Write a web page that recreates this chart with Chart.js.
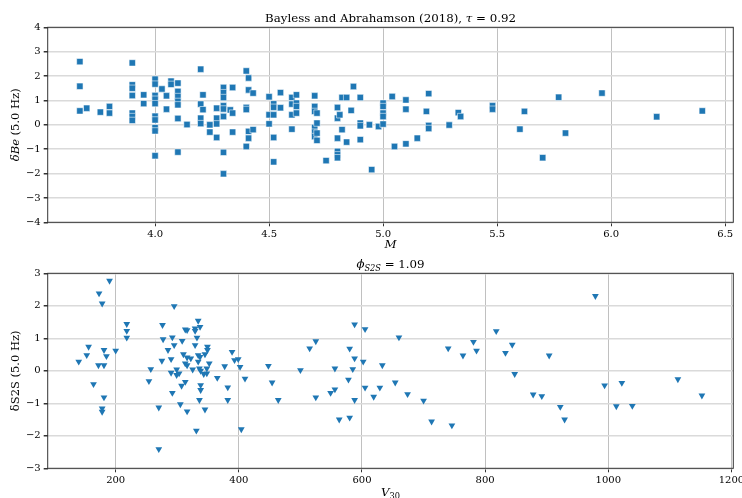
<!DOCTYPE html>
<html>
<head>
<meta charset="utf-8">
<script src="https://cdn.jsdelivr.net/npm/chart.js@4.4.1/dist/chart.umd.min.js"></script>
<style>
    body { margin: 0; background: #fff; }
    #wrap { position: relative; width: 742px; height: 498px; overflow: hidden; }
    canvas { position: absolute; left: 0; }
    #topChart { top: 0; }
    #bottomChart { top: 249px; }
</style>
</head>
<body>
<div id="wrap">
    <canvas id="topChart" width="742" height="249"></canvas>
    <canvas id="bottomChart" width="742" height="249"></canvas>
</div>
<script>
// event terms vs magnitude
const magnitudes = [
    3.67, 3.67, 3.67, 3.70, 3.76, 3.80, 3.80,
    3.90, 3.90, 3.90, 3.90, 3.90, 3.90, 3.90, 3.95, 3.95,
    4.00, 4.00, 4.00, 4.00, 4.00, 4.00, 4.00, 4.00, 4.00, 4.00,
    4.03, 4.05, 4.05, 4.07, 4.07,
    4.10, 4.10, 4.10, 4.10, 4.10, 4.10, 4.10, 4.14,
    4.20, 4.21, 4.20, 4.21, 4.20, 4.20, 4.24, 4.24,
    4.27, 4.27, 4.27, 4.27,
    4.30, 4.30, 4.30, 4.30, 4.30, 4.30, 4.30, 4.30,
    4.33, 4.34, 4.34, 4.34,
    4.40, 4.40, 4.40, 4.40, 4.41, 4.41, 4.41, 4.41, 4.43, 4.43,
    4.50, 4.50, 4.50, 4.52, 4.52, 4.52, 4.52, 4.52, 4.55, 4.55,
    4.60, 4.60, 4.60, 4.60, 4.62, 4.62, 4.62, 4.62,
    4.70, 4.70, 4.70, 4.70, 4.70, 4.70, 4.71, 4.71, 4.71, 4.71, 4.75,
    4.80, 4.80, 4.80, 4.80, 4.80, 4.80, 4.81, 4.82, 4.82, 4.84, 4.84, 4.86, 4.87,
    4.90, 4.90, 4.90, 4.90, 4.94, 4.95, 4.98,
    5.00, 5.00, 5.00, 5.00, 5.00,
    5.04, 5.05, 5.10, 5.10, 5.10, 5.15, 5.19, 5.20, 5.20, 5.20, 5.29, 5.33, 5.34,
    5.48, 5.48, 5.60, 5.62, 5.70, 5.77, 5.80, 5.96, 6.20, 6.40
];
const deltaBe = [
    2.59, 1.58, 0.57, 0.68, 0.52, 0.75, 0.48,
    2.54, 1.64, 1.50, 1.20, 0.48, 0.34, 0.18, 1.23, 0.87,
    1.87, 1.67, 1.20, 1.05, 0.87, 0.35, 0.20, -0.12, -0.25, -1.27,
    1.47, 1.19, 0.64, 1.79, 1.66,
    1.71, 1.37, 1.16, 0.96, 0.82, 0.26, -1.12, 0.01,
    2.28, 1.23, 0.85, 0.62, 0.27, 0.05, 0.00, -0.30,
    0.68, 0.27, 0.04, -0.52,
    1.53, 1.32, 1.12, 0.78, 0.65, 0.34, -1.13, -2.01,
    0.61, 1.53, 0.48, -0.30,
    2.21, 0.71, 0.63, -0.89, 1.92, 1.43, -0.27, -0.55, 1.30, -0.20,
    1.15, 0.41, 0.04, 0.86, 0.72, 0.41, -0.52, -1.52, 1.32, 0.70,
    1.12, 0.85, 0.41, -0.18, 1.23, 0.89, 0.75, 0.48,
    1.19, 0.75, 0.55, -0.11, -0.30, -0.48, 0.48, 0.07, -0.34, -0.64, -1.47,
    0.71, 0.27, -0.55, -1.09, -1.23, -1.35, 0.41, -0.20, 1.12, 1.12, -0.71, 0.59, 1.57,
    1.12, 0.07, -0.04, -0.61, 0.00, -1.84, -0.07,
    0.89, 0.75, 0.48, 0.34, 0.03,
    1.16, -0.89, 1.02, 0.64, -0.78, -0.55, 0.55, 1.28, -0.03, -0.15, -0.01, 0.50, 0.34,
    0.78, 0.64, -0.18, 0.55, -1.35, 1.13, -0.34, 1.30, 0.33, 0.57
];
const magTicks = [4.0, 4.5, 5.0, 5.5, 6.0, 6.5];
const beTicks = [-4, -3, -2, -1, 0, 1, 2, 3, 4];

// site terms vs Vs30
const vs30 = [
    140, 153, 156, 164, 172, 173, 178, 178, 178, 181, 181, 181, 185, 190, 200, 218, 218, 218,
    254, 257, 270, 270, 275, 276, 277, 285, 290, 290, 292, 292, 295, 295, 299, 299, 303, 305,
    307, 308, 310, 313, 313, 313, 316, 316, 316, 316, 322, 325, 329, 329, 329, 331, 332, 334,
    334, 334, 336, 336, 337, 337, 338, 338, 338, 343, 345, 345, 348, 348, 349, 349, 352, 365,
    377, 382, 382, 389, 393, 399, 402, 404, 410,
    448, 454, 464, 500, 515, 525, 525, 549, 556, 556, 563, 578, 580, 580, 585, 588, 588, 588,
    602, 605, 605, 619, 629, 633, 654, 660, 674, 700, 713, 740, 746, 764, 781, 786,
    818, 833, 844, 848, 878, 892, 904, 922, 929, 979, 994, 1013, 1022, 1039, 1113, 1152
];
const deltaS2S = [
    0.28, 0.48, 0.74, -0.41, 0.17, 2.38, 2.07, -1.16, -1.26, 0.64, -0.82, 0.17, 0.45, 2.77, 0.62, 1.44, 1.23, 1.02,
    -0.32, 0.05, -1.13, -2.41, 0.31, 1.41, 0.97, 0.64, 0.36, -0.06, 1.03, -0.68, 1.99, 0.79, 0.04, -0.13, -0.08, -1.03,
    -0.46, 0.92, 0.51, 1.27, 0.23, -0.34, 1.25, 0.41, 0.17, -1.25, 0.38, 0.04, 1.30, 1.23, 0.79, -1.84, 1.02, 1.54,
    0.48, 0.28, 0.07, -0.90, 1.35, 0.43, -0.44, -0.59, 0.00, -0.10, -1.19, 0.51, -0.08, 0.07, 0.74, 0.64, 0.23, -0.22,
    0.14, -0.51, -0.90, 0.58, 0.33, 0.36, 0.12, -1.80, -0.24,
    0.15, -0.36, -0.90, 0.02, 0.69, 0.91, -0.82, -0.68, 0.07, -0.57, -1.50, -0.27, 0.68, -1.44, 0.05, 1.43, 0.38, -0.90,
    0.28, 1.28, -0.52, -0.80, -0.52, 0.17, -0.36, 1.03, -0.72, -0.92, -1.56, 0.69, -1.68, 0.47, 0.89, 0.62,
    1.22, 0.55, 0.80, -0.10, -0.73, -0.78, 0.47, -1.11, -1.50, 2.30, -0.45, -1.09, -0.37, -1.08, -0.26, -0.76
];
const vsTicks = [200, 400, 600, 800, 1000, 1200];
const s2sTicks = [-3, -2, -1, 0, 1, 2, 3];

const serif = "'DejaVu Serif', serif";
const blue = '#1f77b4';

function fontOf(part, size) {
    return (part.i ? 'italic ' : '') + (part.sub ? size * 0.7 : size) + 'px ' + serif;
}

// draws a label made of pieces (italic / subscript), centred on x,y
function drawRich(ctx, parts, x, y, size, rotate) {
    ctx.save();
    ctx.translate(x, y);
    if (rotate) ctx.rotate(-Math.PI / 2);
    ctx.textAlign = 'left';
    ctx.textBaseline = 'alphabetic';
    ctx.fillStyle = '#000';
    let total = 0;
    parts.forEach(p => { ctx.font = fontOf(p, size); total += ctx.measureText(p.t).width; });
    let cx = -total / 2;
    const base = size * 0.36;
    parts.forEach(p => {
        ctx.font = fontOf(p, size);
        ctx.fillText(p.t, cx, p.sub ? base + size * 0.25 : base);
        cx += ctx.measureText(p.t).width;
    });
    ctx.restore();
}

function labelPlugin(spec) {
    return {
        id: 'labels',
        afterDraw(chart) {
            const ctx = chart.ctx;
            const a = chart.chartArea;
            const mid = (a.left + a.right) / 2;
            ctx.save();
            ctx.strokeStyle = '#333';
            ctx.lineWidth = 1;
            ctx.strokeRect(a.left, a.top, a.right - a.left, a.bottom - a.top);
            ctx.restore();
            drawRich(ctx, spec.title, mid, spec.titleY, 11.8, false);
            drawRich(ctx, spec.xLabel, mid, spec.xLabelY, 11.8, false);
            drawRich(ctx, spec.yLabel, 15, (a.top + a.bottom) / 2, 11.5, true);
        }
    };
}

function fixedTicks(values) {
    return function (scale) {
        scale.ticks = values.map(v => ({ value: v }));
    };
}

function fitSize(size, isX) {
    return function (scale) {
        if (isX) scale.height = size; else scale.width = size;
        scale.paddingLeft = 0;
        scale.paddingRight = 0;
        scale.paddingTop = 0;
        scale.paddingBottom = 0;
    };
}

function minusLabel(v) {
    return v < 0 ? '\u2212' + Math.abs(v) : String(v);
}

function loadScatter(canvas, xs, ys, opts) {
    new Chart(canvas, {
        type: 'scatter',
        data: {
            datasets: [{
                data: xs.map((x, i) => ({ x: x, y: ys[i] })),
                pointStyle: opts.pointStyle,
                rotation: opts.rotation,
                radius: opts.radius,
                backgroundColor: blue,
                borderColor: opts.borderColor,
                borderWidth: opts.borderWidth
            }]
        },
        options: {
            responsive: false,
            animation: false,
            events: [],
            layout: {
                padding: { top: opts.top, right: 8.7, bottom: 0, left: 0 }
            },
            scales: {
                x: {
                    type: 'linear',
                    min: opts.xMin,
                    max: opts.xMax,
                    afterBuildTicks: fixedTicks(opts.xTicks),
                    afterFit: fitSize(opts.xHeight, true),
                    border: { display: false },
                    grid: {
                        color: '#c0c0c0',
                        lineWidth: 1,
                        tickColor: '#333',
                        tickLength: 4
                    },
                    ticks: {
                        color: '#000',
                        padding: 2,
                        maxRotation: 0,
                        font: { family: serif, size: 10 },
                        callback: opts.xFormat
                    }
                },
                y: {
                    type: 'linear',
                    min: opts.yTicks[0],
                    max: opts.yTicks[opts.yTicks.length - 1],
                    afterBuildTicks: fixedTicks(opts.yTicks),
                    afterFit: fitSize(47.7, false),
                    border: { display: false },
                    grid: {
                        color: '#dadada',
                        lineWidth: 1.5,
                        tickColor: '#333',
                        tickLength: 4
                    },
                    ticks: {
                        color: '#000',
                        padding: 3,
                        font: { family: serif, size: 10 },
                        callback: minusLabel
                    }
                }
            },
            plugins: {
                legend: { display: false },
                tooltip: { enabled: false }
            }
        },
        plugins: [labelPlugin(opts.labels)]
    });
}

loadScatter(document.getElementById('topChart'), magnitudes, deltaBe, {
    pointStyle: 'rect',
    rotation: 0,
    radius: 4.5,
    borderColor: 'rgba(255,255,255,0.55)',
    borderWidth: 1,
    top: 27.3,
    xHeight: 26.7,
    xMin: 3.529,
    xMax: 6.536,
    xTicks: magTicks,
    yTicks: beTicks,
    xFormat: v => v.toFixed(1),
    labels: {
        title: [{ t: 'Bayless and Abrahamson (2018), ' }, { t: '\u03c4', i: true }, { t: ' = 0.92' }],
        titleY: 17.5,
        xLabel: [{ t: 'M', i: true }],
        xLabelY: 244,
        yLabel: [{ t: '\u03b4Be', i: true }, { t: ' (5.0 Hz)' }]
    }
});

loadScatter(document.getElementById('bottomChart'), vs30, deltaS2S, {
    pointStyle: 'triangle',
    rotation: 180,
    radius: 3.9,
    borderColor: blue,
    borderWidth: 0,
    top: 24.3,
    xHeight: 29.7,
    xMin: 89.6,
    xMax: 1203,
    xTicks: vsTicks,
    yTicks: s2sTicks,
    xFormat: v => String(v),
    labels: {
        title: [{ t: '\u03d5', i: true }, { t: 'S2S', i: true, sub: true }, { t: ' = 1.09' }],
        titleY: 14.5,
        xLabel: [{ t: 'V', i: true }, { t: '30', sub: true }],
        xLabelY: 243,
        yLabel: [{ t: '\u03b4S2S (5.0 Hz)' }]
    }
});
</script>
</body>
</html>
